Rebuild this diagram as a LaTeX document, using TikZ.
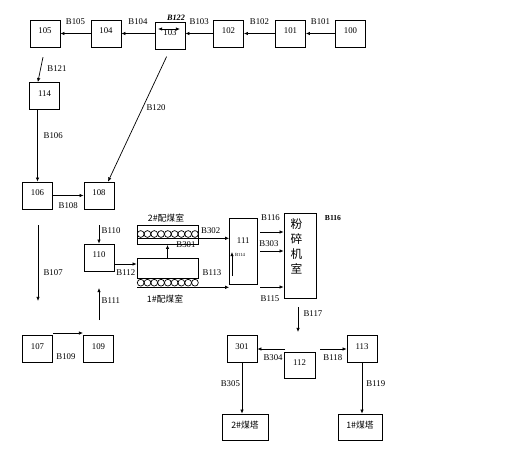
\documentclass[tikz,border=0pt]{standalone}
\usepackage{fontspec}
\setmainfont{Liberation Serif}
\newfontfamily\cjk{Noto Sans CJK SC}
\usepackage{tikz}
\usetikzlibrary{arrows.meta}

\begin{document}
\begin{tikzpicture}[x=0.03cm, y=-0.03cm, line width=0.6pt,
        >={Latex[length=3.5pt,width=3pt]},
        font=\fontsize{7.5}{9}\selectfont,
        box/.style={draw, inner sep=0pt, text depth=0.15cm, minimum width=0.9cm, minimum height=0.81cm},
        bin/.style={draw, inner sep=0pt, minimum width=1.83cm, minimum height=0.59cm},
        lbl/.style={inner sep=0pt},
        cjklbl/.style={inner sep=0pt, font=\cjk\fontsize{7.5}{9}\selectfont}]
        \useasboundingbox (0,0) rectangle (509,465);

        \node[box] (n100) at (350.5,33.5) {100};
        \node[box] (n101) at (290.5,33.5) {101};
        \node[box] (n102) at (228.5,33.5) {102};
        \node[box] (n103) at (170,35.5) {103};
        \node[box] (n104) at (106,33.5) {104};
        \node[box] (n105) at (45,33.5) {105};

        \node[box] (n114) at (44.5,96) {114};
        \node[box] (n106) at (37.5,195.5) {106};
        \node[box] (n108) at (99,195.5) {108};
        \node[box] (n110) at (99,257.5) {110};
        \node[box] (n107) at (37.5,349) {107};
        \node[box] (n109) at (98.5,349) {109};

        \node[bin] (bin2) at (167.5,234.7) {};
        \node[bin] (bin1) at (167.5,268.3) {};
        \foreach \i in {0,...,8} {
            \draw (140.7+\i*6.78,234) circle (3.39);
            \draw (140.7+\i*6.78,282.7) circle (3.39);
        }
        \node[cjklbl] (lbin2) at (166,218) {2\#配煤室};
        \node[cjklbl] (lbin1) at (165,299) {1\#配煤室};

        \node[box, text depth=0.6cm, minimum width=0.825cm, minimum height=1.98cm] (n111) at (243.25,251) {111};
        \node[box, text depth=0cm, minimum width=0.96cm, minimum height=2.55cm] (crush) at (300,255.5) {};
        \node[inner sep=0pt, align=center, font=\cjk\fontsize{10}{12.75}\selectfont] (lcrush) at (296.5,246) {粉\\碎\\机\\室};

        \node[box, minimum width=0.93cm, minimum height=0.78cm] (n112) at (299.5,365) {112};
        \node[box] (n301) at (242,349) {301};
        \node[box] (n113) at (362,349) {113};
        \node[box, font=\cjk\fontsize{7.5}{9}\selectfont, minimum width=1.38cm, minimum height=0.78cm] (t2) at (245,427) {2\#煤塔};
        \node[box, font=\cjk\fontsize{7.5}{9}\selectfont, minimum width=1.32cm, minimum height=0.78cm] (t1) at (360,427) {1\#煤塔};

        % free ends
        \coordinate (s107) at (38,225);
        \coordinate (e107) at (38,301);
        \coordinate (s110) at (99,225);
        \coordinate (s111) at (99,320);
        \coordinate (e111) at (99,288);
        \coordinate (s109) at (53,333);
        \coordinate (e109) at (83,333);
        \coordinate (s112) at (115,264);
        \coordinate (s302) at (137,238.3);
        \coordinate (s113) at (137,287.3);
        \coordinate (s114) at (232,276);
        \coordinate (e114) at (232,252);
        \coordinate (s116) at (260,232);
        \coordinate (s303) at (260,251);
        \coordinate (s115) at (260,287);
        \coordinate (s117) at (298,307);
        \coordinate (e117) at (298,332);
        \coordinate (s304) at (285,349);
        \coordinate (s118) at (320,349);
        \coordinate (a122) at (158,29);
        \coordinate (b122) at (180,29);

        \path[->]
        (n100) edge node[lbl, above=7pt] (lb101) {B101} (n101)
        (n101) edge node[lbl, above=7pt] (lb102) {B102} (n102)
        (n102.west) edge node[lbl, above=7pt] (lb103) {B103} (n102.west -| n103.east)
        (n103.west |- n104) edge node[lbl, above=7pt] (lb104) {B104} (n104)
        (n104) edge node[lbl, above=7pt] (lb105) {B105} (n105)

        (n105.south) edge[shorten <=0.3cm] node[lbl, right=5.5pt, pos=0.6] (lb121) {B121} ([xshift=-0.2cm]n114.north)
        (n103.south) edge[shorten <=0.24cm] node[lbl, right=3pt, pos=0.44] (lb120) {B120} ([xshift=0.27cm]n108.north)
        (n114.south -| n106) edge node[lbl, right=5pt, pos=0.36] (lb106) {B106} (n106)
        (n106) edge node[lbl, below=5.5pt] (lb108) {B108} (n108)

        (s107) edge node[lbl, right=4.5pt, pos=0.63] (lb107) {B107} (e107)
        (s110) edge node[lbl, right=2pt, pos=0.32] (lb110) {B110} (n110)
        (s111) edge node[lbl, right=2pt, pos=0.62] (lb111) {B111} (e111)
        (s109) edge (e109)

        (s112) edge node[lbl, below=4.5pt] (lb112) {B112} (s112 -| bin1.west)
        (bin1) edge (bin2)
        (s302) edge node[lbl, above=3.5pt, pos=0.8] (lb302) {B302} (s302 -| n111.west)
        (s113) edge (s113 -| n111.west)
        (s114) edge (e114)

        (s116) edge (s116 -| crush.west)
        (s303) edge (s303 -| crush.west)
        (s115) edge (s115 -| crush.west)

        (s117) edge node[lbl, right=4.5pt, pos=0.28] (lb117) {B117} (e117)
        (s304) edge node[lbl, below=4.5pt, pos=0.43] (lb304) {B304} (n301)
        (s118) edge node[lbl, below=4.5pt, pos=0.48] (lb118) {B118} (n113)
        (n301.south) edge node[lbl, left=1.5pt, pos=0.4] (lb305) {B305} (n301.south |- t2.north)
        (n113.south) edge node[lbl, right=3.5pt, pos=0.4] (lb119) {B119} (n113.south |- t1.north);

        \draw[<->] (a122) -- (b122);

        \node[lbl, font=\bfseries\itshape\fontsize{7}{8}\selectfont] (lb122) at (176,18) {B122};
        \node[lbl] (lb109) at (66,357) {B109};
        \node[lbl] (lb113) at (212,273) {B113};
        \node[lbl] (lb301) at (186,244.5) {B301};
        \node[lbl] (lb116) at (270.5,218) {B116};
        \node[lbl] (lb303) at (269,244) {B303};
        \node[lbl] (lb115) at (270,299) {B115};
        \node[lbl, font=\bfseries\fontsize{6.5}{8}\selectfont] (lb116b) at (333,218) {B116};
        \node[lbl, font=\fontsize{4}{5}\selectfont] (lb114) at (240,255) {B114};

    \end{tikzpicture}
\end{document}
